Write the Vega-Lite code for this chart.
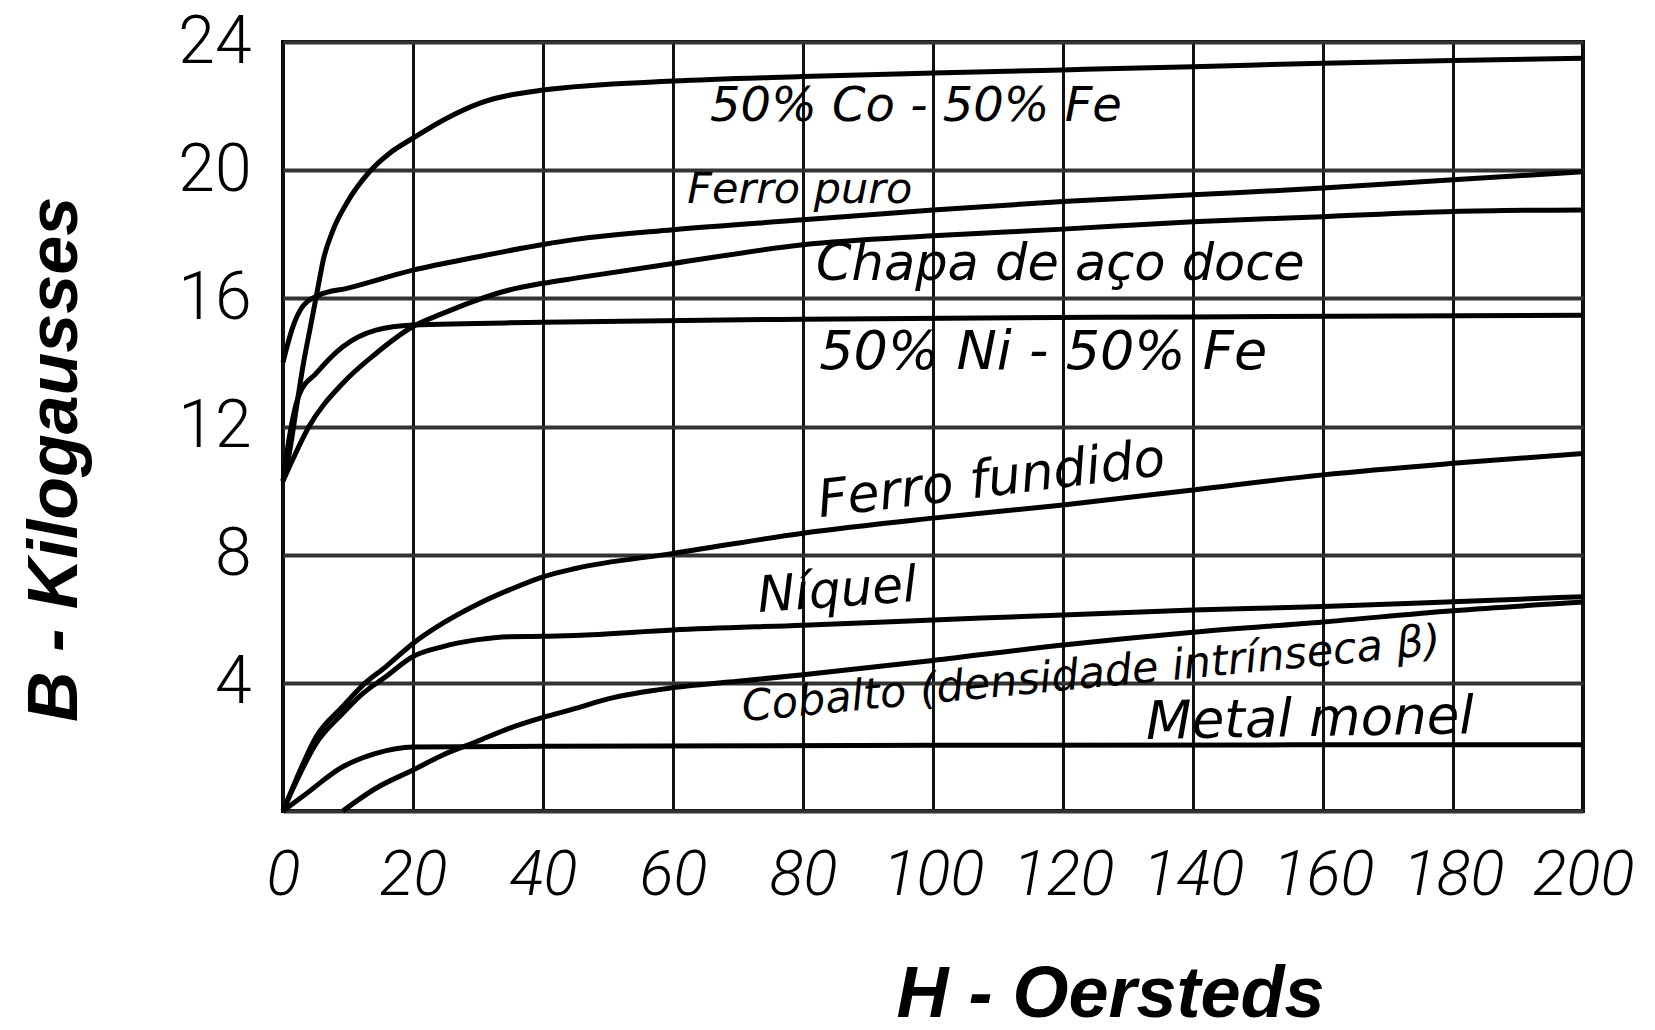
{
  "$schema": "https://vega.github.io/schema/vega-lite/v6.json",
  "width": 1300,
  "height": 769,
  "autosize": {"type": "none"},
  "padding": {"left": 283, "top": 42, "right": 72, "bottom": 219},
  "background": "white",
  "config": {"view": {"stroke": "black", "strokeWidth": 4}},
  "datasets": {
    "curves": [
      {"material": "50% Co - 50% Fe", "H": 0, "B": 10.3},
      {"material": "50% Co - 50% Fe", "H": 1, "B": 11.2},
      {"material": "50% Co - 50% Fe", "H": 2, "B": 12.5},
      {"material": "50% Co - 50% Fe", "H": 3, "B": 13.8},
      {"material": "50% Co - 50% Fe", "H": 4.4, "B": 15.3},
      {"material": "50% Co - 50% Fe", "H": 5.4, "B": 16.36},
      {"material": "50% Co - 50% Fe", "H": 6.2, "B": 17.2},
      {"material": "50% Co - 50% Fe", "H": 7.7, "B": 18.13},
      {"material": "50% Co - 50% Fe", "H": 9.8, "B": 18.97},
      {"material": "50% Co - 50% Fe", "H": 13.3, "B": 19.95},
      {"material": "50% Co - 50% Fe", "H": 16.4, "B": 20.53},
      {"material": "50% Co - 50% Fe", "H": 20, "B": 21.0},
      {"material": "50% Co - 50% Fe", "H": 25.2, "B": 21.62},
      {"material": "50% Co - 50% Fe", "H": 30.3, "B": 22.09},
      {"material": "50% Co - 50% Fe", "H": 40, "B": 22.5},
      {"material": "50% Co - 50% Fe", "H": 60, "B": 22.78},
      {"material": "50% Co - 50% Fe", "H": 80, "B": 22.92},
      {"material": "50% Co - 50% Fe", "H": 100, "B": 23.03},
      {"material": "50% Co - 50% Fe", "H": 120, "B": 23.13},
      {"material": "50% Co - 50% Fe", "H": 140, "B": 23.23},
      {"material": "50% Co - 50% Fe", "H": 160, "B": 23.34},
      {"material": "50% Co - 50% Fe", "H": 180, "B": 23.42},
      {"material": "50% Co - 50% Fe", "H": 200, "B": 23.49},

      {"material": "Ferro puro", "H": 0, "B": 14.0},
      {"material": "Ferro puro", "H": 0.5, "B": 14.4},
      {"material": "Ferro puro", "H": 1.5, "B": 15.1},
      {"material": "Ferro puro", "H": 3, "B": 15.74},
      {"material": "Ferro puro", "H": 5.5, "B": 16.1},
      {"material": "Ferro puro", "H": 10, "B": 16.32},
      {"material": "Ferro puro", "H": 20, "B": 16.88},
      {"material": "Ferro puro", "H": 30, "B": 17.3},
      {"material": "Ferro puro", "H": 40, "B": 17.68},
      {"material": "Ferro puro", "H": 45, "B": 17.84},
      {"material": "Ferro puro", "H": 60, "B": 18.14},
      {"material": "Ferro puro", "H": 80, "B": 18.45},
      {"material": "Ferro puro", "H": 100, "B": 18.76},
      {"material": "Ferro puro", "H": 120, "B": 19.02},
      {"material": "Ferro puro", "H": 140, "B": 19.23},
      {"material": "Ferro puro", "H": 160, "B": 19.44},
      {"material": "Ferro puro", "H": 180, "B": 19.7},
      {"material": "Ferro puro", "H": 200, "B": 19.95},

      {"material": "Chapa de aço doce", "H": 0, "B": 10.3},
      {"material": "Chapa de aço doce", "H": 1, "B": 10.75},
      {"material": "Chapa de aço doce", "H": 4, "B": 12.0},
      {"material": "Chapa de aço doce", "H": 9.2, "B": 13.35},
      {"material": "Chapa de aço doce", "H": 14.3, "B": 14.28},
      {"material": "Chapa de aço doce", "H": 20, "B": 15.12},
      {"material": "Chapa de aço doce", "H": 24.6, "B": 15.53},
      {"material": "Chapa de aço doce", "H": 29.2, "B": 15.9},
      {"material": "Chapa de aço doce", "H": 34.8, "B": 16.26},
      {"material": "Chapa de aço doce", "H": 40, "B": 16.47},
      {"material": "Chapa de aço doce", "H": 45, "B": 16.63},
      {"material": "Chapa de aço doce", "H": 60, "B": 17.09},
      {"material": "Chapa de aço doce", "H": 80, "B": 17.67},
      {"material": "Chapa de aço doce", "H": 100, "B": 17.95},
      {"material": "Chapa de aço doce", "H": 120, "B": 18.16},
      {"material": "Chapa de aço doce", "H": 140, "B": 18.39},
      {"material": "Chapa de aço doce", "H": 160, "B": 18.55},
      {"material": "Chapa de aço doce", "H": 180, "B": 18.71},
      {"material": "Chapa de aço doce", "H": 200, "B": 18.76},

      {"material": "50% Ni - 50% Fe", "H": 0, "B": 10.3},
      {"material": "50% Ni - 50% Fe", "H": 1, "B": 11.7},
      {"material": "50% Ni - 50% Fe", "H": 2.5, "B": 13.0},
      {"material": "50% Ni - 50% Fe", "H": 5.1, "B": 13.66},
      {"material": "50% Ni - 50% Fe", "H": 9.2, "B": 14.49},
      {"material": "50% Ni - 50% Fe", "H": 14.3, "B": 15.01},
      {"material": "50% Ni - 50% Fe", "H": 20, "B": 15.17},
      {"material": "50% Ni - 50% Fe", "H": 40, "B": 15.25},
      {"material": "50% Ni - 50% Fe", "H": 80, "B": 15.35},
      {"material": "50% Ni - 50% Fe", "H": 140, "B": 15.42},
      {"material": "50% Ni - 50% Fe", "H": 200, "B": 15.47},

      {"material": "Ferro fundido", "H": 0, "B": 0},
      {"material": "Ferro fundido", "H": 2, "B": 0.97},
      {"material": "Ferro fundido", "H": 5.1, "B": 2.32},
      {"material": "Ferro fundido", "H": 9.2, "B": 3.26},
      {"material": "Ferro fundido", "H": 12.3, "B": 3.93},
      {"material": "Ferro fundido", "H": 15.8, "B": 4.5},
      {"material": "Ferro fundido", "H": 20, "B": 5.23},
      {"material": "Ferro fundido", "H": 24.6, "B": 5.86},
      {"material": "Ferro fundido", "H": 29.7, "B": 6.43},
      {"material": "Ferro fundido", "H": 34.8, "B": 6.9},
      {"material": "Ferro fundido", "H": 40, "B": 7.31},
      {"material": "Ferro fundido", "H": 45, "B": 7.57},
      {"material": "Ferro fundido", "H": 60, "B": 8.04},
      {"material": "Ferro fundido", "H": 80, "B": 8.67},
      {"material": "Ferro fundido", "H": 100, "B": 9.14},
      {"material": "Ferro fundido", "H": 120, "B": 9.55},
      {"material": "Ferro fundido", "H": 140, "B": 10.02},
      {"material": "Ferro fundido", "H": 160, "B": 10.49},
      {"material": "Ferro fundido", "H": 180, "B": 10.85},
      {"material": "Ferro fundido", "H": 200, "B": 11.16},

      {"material": "Níquel", "H": 0, "B": 0},
      {"material": "Níquel", "H": 2, "B": 0.9},
      {"material": "Níquel", "H": 5.1, "B": 2.11},
      {"material": "Níquel", "H": 9.2, "B": 3.05},
      {"material": "Níquel", "H": 12.3, "B": 3.67},
      {"material": "Níquel", "H": 15.8, "B": 4.19},
      {"material": "Níquel", "H": 20, "B": 4.82},
      {"material": "Níquel", "H": 24.6, "B": 5.13},
      {"material": "Níquel", "H": 29.7, "B": 5.34},
      {"material": "Níquel", "H": 34.8, "B": 5.44},
      {"material": "Níquel", "H": 40, "B": 5.45},
      {"material": "Níquel", "H": 45, "B": 5.48},
      {"material": "Níquel", "H": 60, "B": 5.65},
      {"material": "Níquel", "H": 80, "B": 5.8},
      {"material": "Níquel", "H": 100, "B": 5.96},
      {"material": "Níquel", "H": 120, "B": 6.12},
      {"material": "Níquel", "H": 140, "B": 6.27},
      {"material": "Níquel", "H": 160, "B": 6.38},
      {"material": "Níquel", "H": 180, "B": 6.53},
      {"material": "Níquel", "H": 200, "B": 6.69},

      {"material": "Cobalto", "H": 9.2, "B": 0},
      {"material": "Cobalto", "H": 14.3, "B": 0.71},
      {"material": "Cobalto", "H": 20, "B": 1.28},
      {"material": "Cobalto", "H": 24.6, "B": 1.75},
      {"material": "Cobalto", "H": 29.7, "B": 2.16},
      {"material": "Cobalto", "H": 34.8, "B": 2.58},
      {"material": "Cobalto", "H": 40, "B": 2.92},
      {"material": "Cobalto", "H": 45, "B": 3.2},
      {"material": "Cobalto", "H": 50, "B": 3.5},
      {"material": "Cobalto", "H": 60, "B": 3.85},
      {"material": "Cobalto", "H": 70, "B": 4.05},
      {"material": "Cobalto", "H": 80, "B": 4.25},
      {"material": "Cobalto", "H": 100, "B": 4.7},
      {"material": "Cobalto", "H": 120, "B": 5.18},
      {"material": "Cobalto", "H": 140, "B": 5.58},
      {"material": "Cobalto", "H": 160, "B": 5.9},
      {"material": "Cobalto", "H": 180, "B": 6.25},
      {"material": "Cobalto", "H": 200, "B": 6.52},

      {"material": "Metal monel", "H": 0, "B": 0},
      {"material": "Metal monel", "H": 3, "B": 0.45},
      {"material": "Metal monel", "H": 9.2, "B": 1.38},
      {"material": "Metal monel", "H": 14.3, "B": 1.8},
      {"material": "Metal monel", "H": 20, "B": 2.0},
      {"material": "Metal monel", "H": 40, "B": 2.02},
      {"material": "Metal monel", "H": 100, "B": 2.05},
      {"material": "Metal monel", "H": 200, "B": 2.07}
    ],
    "labels": [
      {"label": "50% Co - 50% Fe", "H": 65.7, "B": 21.54},
      {"label": "Ferro puro", "H": 62.2, "B": 18.98},
      {"label": "Chapa de aço doce", "H": 82, "B": 16.57},
      {"label": "50% Ni - 50% Fe", "H": 82.5, "B": 13.8},
      {"label": "Ferro fundido", "H": 82.6, "B": 9.17},
      {"label": "Níquel", "H": 73.2, "B": 6.21},
      {"label": "Cobalto (densidade intrínseca β)", "H": 70.8, "B": 2.8},
      {"label": "Metal monel", "H": 132.8, "B": 2.25}
    ]
  },
  "encoding": {
    "x": {
      "field": "H", "type": "quantitative",
      "scale": {"domain": [0, 200], "nice": false},
      "axis": {
        "values": [0, 20, 40, 60, 80, 100, 120, 140, 160, 180, 200],
        "grid": true, "gridColor": "#111111", "gridWidth": 3, "gridOpacity": 1,
        "domain": false, "ticks": false,
        "labelFlush": false, "labelOverlap": false,
        "labelFont": "Roboto, sans-serif", "labelFontWeight": 300,
        "labelFontStyle": "italic", "labelFontSize": 63, "labelColor": "black",
        "labelPadding": 33,
        "title": "H - Oersteds",
        "titleFont": "Liberation Sans, sans-serif", "titleFontSize": 72,
        "titleFontWeight": "bold", "titleFontStyle": "italic", "titleColor": "black",
        "titleX": 827, "titleY": 205, "titleAlign": "center", "titleBaseline": "alphabetic"
      }
    },
    "y": {
      "field": "B", "type": "quantitative",
      "scale": {"domain": [0, 24], "nice": false},
      "axis": {
        "values": [0, 4, 8, 12, 16, 20, 24],
        "labelExpr": "datum.value == 0 ? '' : datum.label",
        "grid": true, "gridColor": "#333333", "gridWidth": 4, "gridOpacity": 1,
        "domain": false, "ticks": false,
        "labelFont": "Roboto, sans-serif", "labelFontWeight": 300,
        "labelFontSize": 66, "labelColor": "black", "labelPadding": 32,
        "title": "B - Kilogausses",
        "titleFont": "Liberation Sans, sans-serif", "titleFontSize": 70,
        "titleFontWeight": "bold", "titleFontStyle": "italic", "titleColor": "black",
        "titleAngle": 270,
        "titleX": -207, "titleY": 417, "titleAlign": "center", "titleBaseline": "alphabetic"
      }
    }
  },
  "layer": [
    {
      "data": {"name": "curves"},
      "mark": {"type": "line", "interpolate": "monotone", "color": "black", "strokeWidth": 5},
      "encoding": {"detail": {"field": "material", "type": "nominal"}}
    },
    {
      "data": {"name": "labels"},
      "transform": [{"filter": "datum.label === '50% Co - 50% Fe'"}],
      "mark": {"type": "text", "align": "left", "baseline": "alphabetic", "font": "DejaVu Sans", "fontStyle": "italic", "fontSize": 48, "color": "black"},
      "encoding": {"text": {"field": "label"}}
    },
    {
      "data": {"name": "labels"},
      "transform": [{"filter": "datum.label === 'Ferro puro'"}],
      "mark": {"type": "text", "align": "left", "baseline": "alphabetic", "font": "DejaVu Sans", "fontStyle": "italic", "fontSize": 43, "color": "black"},
      "encoding": {"text": {"field": "label"}}
    },
    {
      "data": {"name": "labels"},
      "transform": [{"filter": "datum.label === 'Chapa de aço doce'"}],
      "mark": {"type": "text", "align": "left", "baseline": "alphabetic", "font": "DejaVu Sans", "fontStyle": "italic", "fontSize": 51, "color": "black"},
      "encoding": {"text": {"field": "label"}}
    },
    {
      "data": {"name": "labels"},
      "transform": [{"filter": "datum.label === '50% Ni - 50% Fe'"}],
      "mark": {"type": "text", "align": "left", "baseline": "alphabetic", "font": "DejaVu Sans", "fontStyle": "italic", "fontSize": 54, "color": "black"},
      "encoding": {"text": {"field": "label"}}
    },
    {
      "data": {"name": "labels"},
      "transform": [{"filter": "datum.label === 'Ferro fundido'"}],
      "mark": {"type": "text", "align": "left", "baseline": "alphabetic", "font": "DejaVu Sans", "fontStyle": "italic", "fontSize": 52, "angle": -7, "color": "black"},
      "encoding": {"text": {"field": "label"}}
    },
    {
      "data": {"name": "labels"},
      "transform": [{"filter": "datum.label === 'Níquel'"}],
      "mark": {"type": "text", "align": "left", "baseline": "alphabetic", "font": "DejaVu Sans", "fontStyle": "italic", "fontSize": 50, "angle": -4, "color": "black"},
      "encoding": {"text": {"field": "label"}}
    },
    {
      "data": {"name": "labels"},
      "transform": [{"filter": "datum.label === 'Cobalto (densidade intrínseca β)'"}],
      "mark": {"type": "text", "align": "left", "baseline": "alphabetic", "font": "DejaVu Sans", "fontStyle": "italic", "fontSize": 43, "angle": -5.5, "color": "black"},
      "encoding": {"text": {"field": "label"}}
    },
    {
      "data": {"name": "labels"},
      "transform": [{"filter": "datum.label === 'Metal monel'"}],
      "mark": {"type": "text", "align": "left", "baseline": "alphabetic", "font": "DejaVu Sans", "fontStyle": "italic", "fontSize": 53, "angle": -1, "color": "black"},
      "encoding": {"text": {"field": "label"}}
    }
  ]
}
